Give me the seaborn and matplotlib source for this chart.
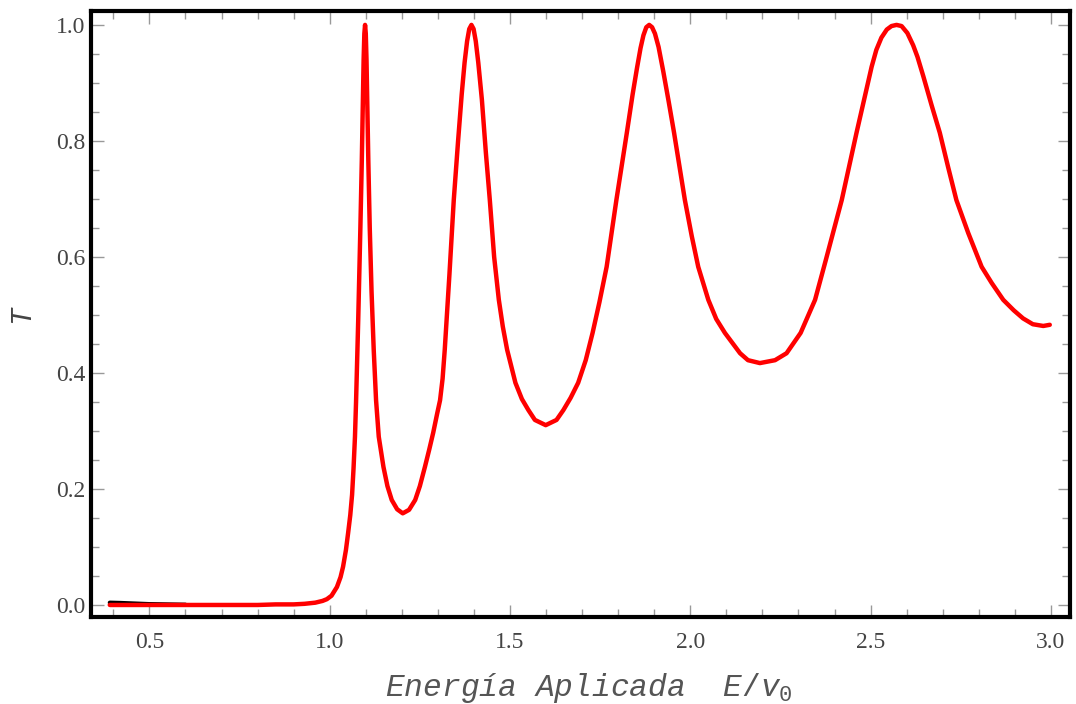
import matplotlib
matplotlib.use("Agg")
import matplotlib.pyplot as plt
import seaborn as sns
from matplotlib.ticker import MultipleLocator

# curva negra (E < V0), casi toda tapada por la roja
energia_baja = [0.39, 0.42, 0.46, 0.50, 0.55, 0.60]
t_baja = [0.004, 0.0035, 0.0025, 0.0015, 0.001, 0.0005]

# curva roja de transmision
energia = [
    0.39, 0.45, 0.50, 0.60, 0.70, 0.80, 0.85, 0.90, 0.93, 0.96, 0.98, 0.992,
    1.005, 1.02, 1.03, 1.037, 1.045, 1.051, 1.057, 1.062, 1.066, 1.070,
    1.073, 1.076, 1.079, 1.082, 1.085, 1.089, 1.092, 1.094, 1.096, 1.098,
    1.100, 1.102, 1.104, 1.107, 1.111, 1.116, 1.122, 1.1285, 1.136, 1.149,
    1.160, 1.172, 1.187, 1.2025, 1.220, 1.237, 1.250, 1.264, 1.276, 1.287,
    1.298, 1.306, 1.313, 1.319, 1.325, 1.332, 1.338, 1.344, 1.356, 1.366,
    1.374, 1.381, 1.387, 1.393, 1.399, 1.405, 1.412, 1.422, 1.433, 1.444,
    1.456, 1.469, 1.480, 1.492, 1.515, 1.533, 1.551, 1.569, 1.599, 1.629,
    1.648, 1.668, 1.689, 1.710, 1.729, 1.748, 1.768, 1.795, 1.824, 1.840,
    1.852, 1.862, 1.870, 1.878, 1.886, 1.894, 1.902, 1.912, 1.925, 1.940,
    1.955, 1.985, 2.004, 2.022, 2.050, 2.072, 2.096, 2.138, 2.160, 2.193,
    2.235, 2.267, 2.306, 2.346, 2.376, 2.420, 2.461, 2.503, 2.516, 2.530,
    2.545, 2.558, 2.572, 2.586, 2.602, 2.618, 2.630, 2.646, 2.669, 2.692,
    2.715, 2.738, 2.771, 2.808, 2.836, 2.868, 2.897, 2.923, 2.950, 2.979,
    2.997,
]
transmision = [
    0.000, 0.000, 0.000, 0.000, 0.000, 0.000, 0.001, 0.001, 0.002, 0.004, 0.007, 0.010,
    0.016, 0.031, 0.048, 0.066, 0.095, 0.124, 0.155, 0.190, 0.235, 0.290,
    0.350, 0.420, 0.491, 0.570, 0.650, 0.767, 0.870, 0.940, 0.985, 1.000,
    0.985, 0.940, 0.870, 0.767, 0.650, 0.540, 0.440, 0.353, 0.290, 0.238,
    0.205, 0.181, 0.165, 0.158, 0.164, 0.181, 0.205, 0.238, 0.268, 0.297,
    0.330, 0.353, 0.390, 0.440, 0.500, 0.570, 0.635, 0.698, 0.800, 0.880,
    0.935, 0.972, 0.993, 1.000, 0.993, 0.972, 0.935, 0.871, 0.780, 0.698,
    0.600, 0.526, 0.480, 0.440, 0.383, 0.355, 0.336, 0.319, 0.310, 0.319,
    0.336, 0.357, 0.383, 0.422, 0.469, 0.522, 0.583, 0.698, 0.814, 0.880,
    0.925, 0.960, 0.982, 0.996, 1.000, 0.996, 0.985, 0.962, 0.920, 0.868,
    0.814, 0.698, 0.636, 0.583, 0.526, 0.493, 0.469, 0.434, 0.422, 0.417,
    0.422, 0.434, 0.469, 0.526, 0.595, 0.698, 0.814, 0.928, 0.957, 0.978,
    0.992, 0.998, 1.000, 0.998, 0.986, 0.965, 0.945, 0.912, 0.862, 0.814,
    0.755, 0.698, 0.641, 0.583, 0.555, 0.526, 0.508, 0.494, 0.484, 0.481,
    0.483,
]

x_ticks = [0.5, 1.0, 1.5, 2.0, 2.5, 3.0]
y_ticks = [0.0, 0.2, 0.4, 0.6, 0.8, 1.0]


def graficar():
    sns.set_theme(style="ticks")
    plt.rcParams["font.family"] = ["Liberation Serif", "DejaVu Serif"]
    plt.rcParams["mathtext.fontset"] = "custom"
    plt.rcParams["mathtext.it"] = "Liberation Mono:italic"
    plt.rcParams["mathtext.rm"] = "Liberation Mono"

    fig = plt.figure(figsize=(10.76, 7.04), dpi=100)
    ax = fig.add_axes([0.0846, 0.1236, 0.9098, 0.8608])

    sns.lineplot(x=energia_baja, y=t_baja, color="black", linewidth=3,
                 sort=False, estimator=None, ax=ax)
    sns.lineplot(x=energia, y=transmision, color="#ff0000", linewidth=3.2,
                 sort=False, estimator=None, ax=ax)

    ax.set_xlim(0.338, 3.053)
    ax.set_ylim(-0.0207, 1.024)
    ax.set_xticks(x_ticks)
    ax.set_yticks(y_ticks)
    ax.set_xticklabels([f"{v:.1f}" for v in x_ticks])
    ax.set_yticklabels([f"{v:.1f}" for v in y_ticks])
    ax.xaxis.set_minor_locator(MultipleLocator(0.1))
    ax.yaxis.set_minor_locator(MultipleLocator(0.05))

    ax.tick_params(which="both", direction="in", top=True, right=True,
                   color="#999999", width=1, labelsize=17, labelcolor="#444444")
    ax.tick_params(which="major", length=9)
    ax.tick_params(which="minor", length=6)
    ax.tick_params(axis="x", which="major", pad=11)
    ax.tick_params(axis="y", which="major", pad=4)

    for lado in ["left", "right", "top", "bottom"]:
        ax.spines[lado].set_visible(True)
        ax.spines[lado].set_linewidth(3)
        ax.spines[lado].set_color("black")

    ax.set_xlabel("Energía Aplicada  $E/v_0$", family="Liberation Mono",
                  style="italic", fontsize=22.5, color="#555555")
    ax.set_ylabel("T", family="Liberation Mono", style="italic",
                  fontsize=21, color="#444444")
    ax.xaxis.label.set_va("center")
    ax.yaxis.label.set_va("center")
    ax.xaxis.set_label_coords(0.509, -0.117)
    ax.yaxis.set_label_coords(-0.0715, 0.5)

    fig.savefig("out.png", dpi=100)
    plt.close(fig)


if __name__ == "__main__":
    graficar()
